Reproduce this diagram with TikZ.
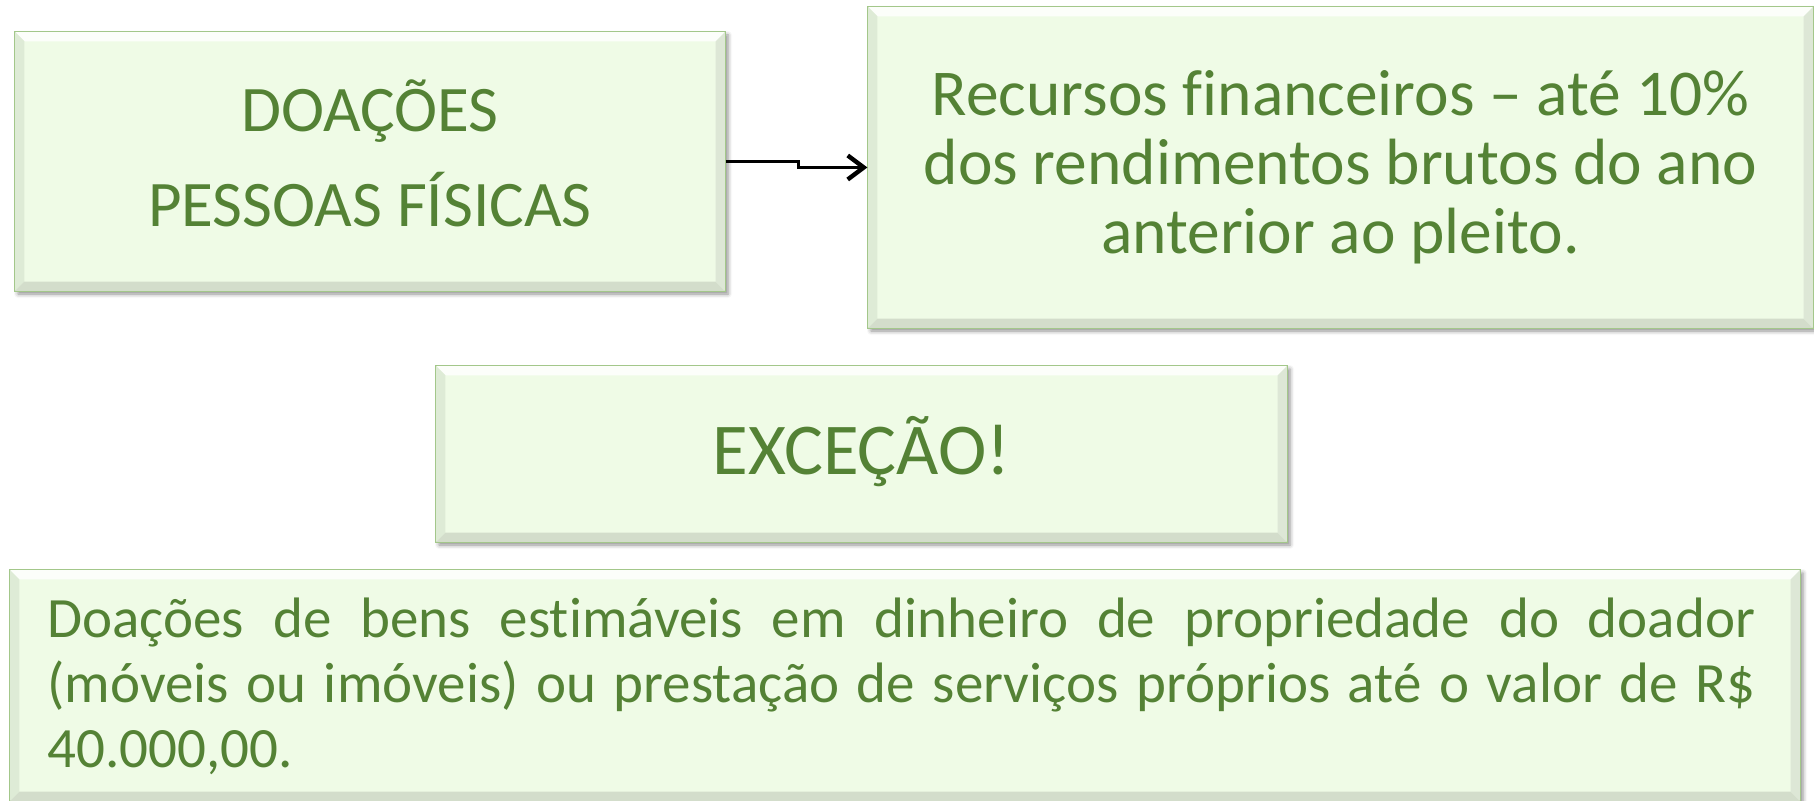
\documentclass[tikz,border=0pt]{standalone}
\usepackage{fontspec}
\setmainfont{Carlito}[Ligatures=CommonOff]
\usetikzlibrary{arrows.meta,shadows.blur}

\definecolor{facegreen}{HTML}{EFFBE6}
\definecolor{textgreen}{HTML}{548235}
\definecolor{rimgreen}{HTML}{A3C78A}
\definecolor{bevtop}{HTML}{FCFEFA}
\definecolor{bevleft}{HTML}{DEEBD6}
\definecolor{bevbottom}{HTML}{D3DDCB}
\definecolor{bevright}{HTML}{DDE7D6}

\tikzset{
  panel/.style={rectangle, inner sep=0pt, fill=facegreen, draw=rimgreen, line width=0.6pt,
    blur shadow={shadow xshift=1.5pt, shadow yshift=-1.5pt, shadow blur radius=2pt, shadow opacity=45}},
  paneltext/.style={text=textgreen, inner sep=0pt, align=center},
  linkarrow/.style={line width=1.7pt, -{Straight Barb[length=8pt,width=12pt,line width=2.2pt]}}
}

\begin{document}
\begin{tikzpicture}[x=0.5pt,y=-0.5pt]
	\useasboundingbox (0,0) rectangle (1814,801);
	% panels
	\node[panel, minimum width=355pt, minimum height=129.5pt] (doacoes) at (370,161.5) {};
	\node[panel, minimum width=472.5pt, minimum height=160.5pt] (recursos) at (1340.5,167.5) {};
	\node[panel, minimum width=425.5pt, minimum height=88pt] (excecao) at (861.5,454) {};
	\node[panel, minimum width=895pt, minimum height=115.5pt] (bens) at (905,685.5) {};
	% bevels
	\foreach \n in {doacoes,recursos,excecao,bens}{
		\fill[bevtop] (\n.north west) -- (\n.north east) -- ([shift={(-10,10)}]\n.north east) -- ([shift={(10,10)}]\n.north west) -- cycle;
		\fill[bevleft] (\n.north west) -- ([shift={(10,10)}]\n.north west) -- ([shift={(10,-10)}]\n.south west) -- (\n.south west) -- cycle;
		\fill[bevbottom] (\n.south west) -- ([shift={(10,-10)}]\n.south west) -- ([shift={(-10,-10)}]\n.south east) -- (\n.south east) -- cycle;
		\fill[bevright] (\n.north east) -- ([shift={(-10,10)}]\n.north east) -- ([shift={(-10,-10)}]\n.south east) -- (\n.south east) -- cycle;
		\draw[rimgreen, line width=0.6pt] (\n.north west) rectangle (\n.south east);
	}
	% texts
	\node[paneltext, anchor=base, font=\fontsize{32.5}{47.5}\selectfont] (doacoes-txt) at (370,226.7) {DOAÇÕES\\PESSOAS FÍSICAS};
	\node[paneltext, anchor=base, font=\fontsize{32.7}{34.5}\selectfont] (recursos-txt) at (1340.5,254) {Recursos financeiros – até 10\%\\dos rendimentos brutos do ano\\anterior ao pleito.};
	\node[paneltext, anchor=base, font=\fontsize{36.5}{42}\selectfont] (excecao-txt) at (861.5,475) {EXCEÇÃO!};
	\node[paneltext, anchor=base west, align=justify, text width=854pt, font=\fontsize{28.5}{32.5}\selectfont] (bens-txt) at (47,637) {Doações de bens estimáveis em dinheiro de propriedade do doador\linebreak (móveis ou imóveis) ou prestação de serviços próprios até o valor de R\$\linebreak 40.000,00.};
	% arrow
	\draw[linkarrow] (doacoes.east) -- ++(73,0) |- (recursos.west);
\end{tikzpicture}
\end{document}
